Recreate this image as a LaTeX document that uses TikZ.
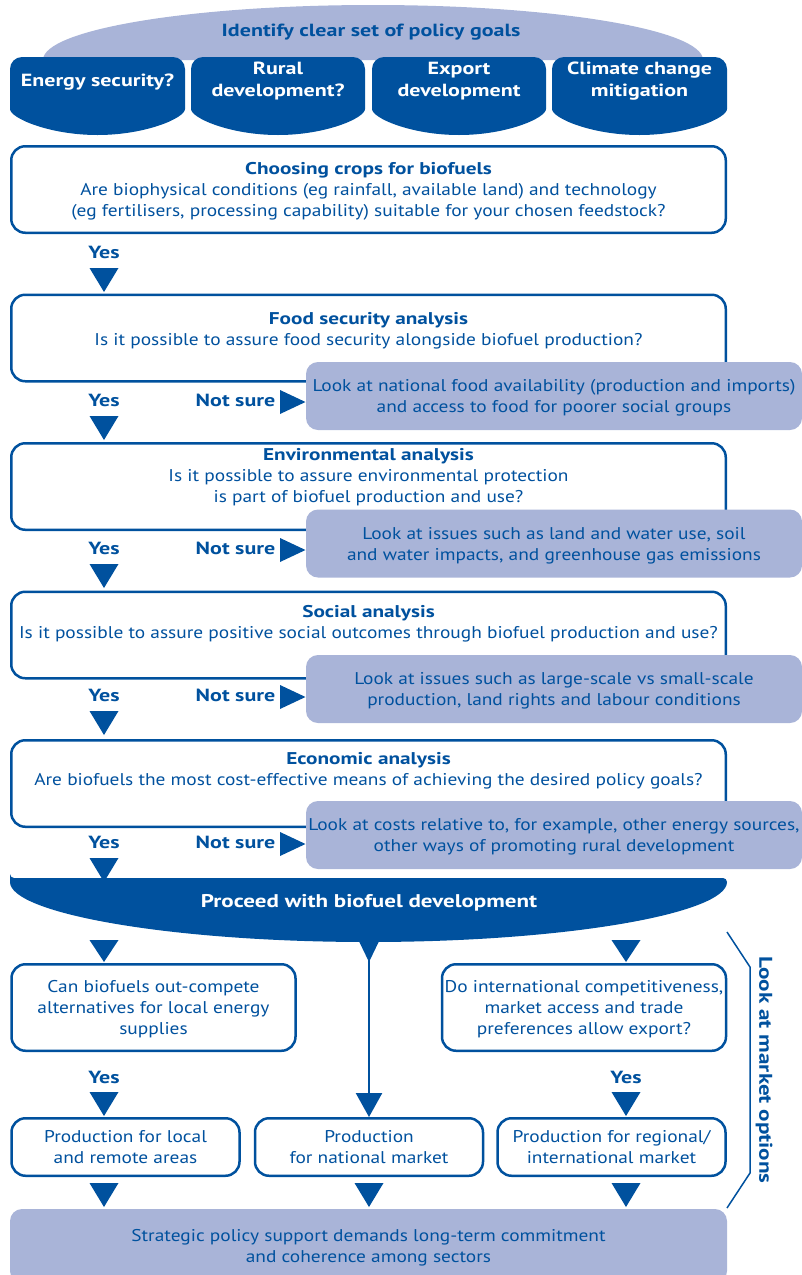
\documentclass[tikz,border=0pt]{standalone}
\usepackage{fontspec}
\setmainfont{PT Sans}[FakeStretch=1.14, BoldFeatures={FakeStretch=1.25}]
\usetikzlibrary{positioning,arrows.meta}
\definecolor{bdark}{RGB}{0,81,158}
\definecolor{blight}{RGB}{169,180,216}
\begin{document}
\begin{tikzpicture}[x=1pt, y=-1pt, node distance=59.5pt, auto]
    % Styles
    \tikzstyle{qbox} = [rectangle, draw=bdark, line width=2.5pt, fill=white, rounded corners=14pt, minimum width=714.5pt, minimum height=86.5pt]
    \tikzstyle{qtext} = [text=bdark, align=center, inner sep=0pt, text depth=0pt, font=\fontsize{17}{21}\selectfont]
    \tikzstyle{hint} = [rectangle, fill=blight, rounded corners=12pt, minimum width=496pt, minimum height=68pt, text=bdark, align=center, inner sep=0pt, text depth=0pt, font=\fontsize{17}{21}\selectfont]
    \tikzstyle{mbox} = [qbox, qtext, minimum width=284pt, minimum height=86.5pt]
    \tikzstyle{sbox} = [qbox, qtext, minimum width=228pt, minimum height=57.5pt]
    \tikzstyle{goal} = [fill=bdark, rounded corners=12pt]
    \tikzstyle{goaltext} = [text=white, align=center, inner sep=0pt, font=\bfseries\fontsize{17.6}{22}\selectfont]
    \tikzstyle{tag} = [text=bdark, inner sep=0pt, font=\bfseries\fontsize{17.6}{21}\selectfont]
    \tikzstyle{tri} = [fill=bdark]
    \tikzstyle{arrow} = [bdark, line width=2.5pt, -{Triangle[width=26pt, length=24pt]}]

    \useasboundingbox (0,0) rectangle (802,1275);
    \clip (0,0) rectangle (802,1275);

    % Policy goals
    \fill[blight] (43,60) arc[start angle=180, end angle=360, x radius=330, y radius=55] -- cycle;
    \node[tag] (goals) at (371,32) {Identify clear set of policy goals};
    \foreach \xa/\xb in {10/185, 191/365, 372/546, 552/727}
        \fill[goal] (\xa,97) -- (\xa,57) -- (\xb,57) -- (\xb,97)
            arc[start angle=0, end angle=180, x radius={(\xb-\xa)/2}, y radius=38] -- cycle;
    \node[goaltext] (energy) at (97.5,82) {Energy security?};
    \node[goaltext] (rural) at (278,81) {Rural\\development?};
    \node[goaltext] (export) at (459,81) {Export\\development};
    \node[goaltext] (climate) at (639.5,81) {Climate change\\mitigation};

    % Analysis boxes
    \node[qbox, qtext] (crops) at (368.5,189.5) {\textbf{Choosing crops for biofuels}\\Are biophysical conditions (eg rainfall, available land) and technology\\(eg fertilisers, processing capability) suitable for your chosen feedstock?};
    \node[qbox, below=of crops] (food) {};
    \node[qbox, below=of food] (env) {};
    \node[qbox, below=of env] (social) {};
    \node[qbox, below=of social] (econ) {};
    \node[qtext] (foodq) at (368.5,328.5) {\textbf{Food security analysis}\\Is it possible to assure food security alongside biofuel production?};
    \node[qtext] (envq) at (368.5,475) {\textbf{Environmental analysis}\\Is it possible to assure environmental protection\\is part of biofuel production and use?};
    \node[qtext] (socialq) at (368.5,621.5) {\textbf{Social analysis}\\Is it possible to assure positive social outcomes through biofuel production and use?};
    \node[qtext] (econq) at (368.5,768.5) {\textbf{Economic analysis}\\Are biofuels the most cost-effective means of achieving the desired policy goals?};

    % Hints
    \node[hint] (foodhint) at (554,396) {Look at national food availability (production and imports)\\and access to food for poorer social groups};
    \node[hint] (envhint) at (554,543.5) {Look at issues such as land and water use, soil\\and water impacts, and greenhouse gas emissions};
    \node[hint] (socialhint) at (554,689) {Look at issues such as large-scale vs small-scale\\production, land rights and labour conditions};
    \node[hint] (econhint) at (554,835) {Look at costs relative to, for example, other energy sources,\\other ways of promoting rural development};

    % Yes / Not sure
    \node[tag] (yes0) at (104,252) {Yes};
    \node[tag] (yes1) at (104,400) {Yes};
    \node[tag] (yes2) at (104,548) {Yes};
    \node[tag] (yes3) at (104,695) {Yes};
    \node[tag] (yes4) at (104,842) {Yes};
    \node[tag] (ns1) at (235.5,400) {Not sure};
    \node[tag] (ns2) at (235.5,548) {Not sure};
    \node[tag] (ns3) at (235.5,695) {Not sure};
    \node[tag] (ns4) at (235.5,842) {Not sure};
    \foreach \y in {268,416,564,711,858}
        \fill[tri] (89.5,\y) -- (118.5,\y) -- (104,\y+24) -- cycle;
    \foreach \y in {402,550,697,844}
        \fill[tri] (280,\y-12) -- (280,\y+12) -- (305.5,\y) -- cycle;

    % Proceed
    \fill[goal, rounded corners=4pt] (10,878) -- (727,878) arc[start angle=0, end angle=180, x radius=358.5, y radius=64] -- cycle;
    \node[goaltext, font=\bfseries\fontsize{18.4}{22}\selectfont] (proceed) at (369,903) {Proceed with biofuel development};
    \fill[tri] (356,935) -- (382,935) -- (369,962) -- cycle;
    \fill[tri] (89.5,940) -- (118.5,940) -- (104,962) -- cycle;
    \fill[tri] (611.5,940) -- (640.5,940) -- (626,962) -- cycle;

    % Market options
    \node[mbox] (localq) at (153.5,1007.5) {Can biofuels out-compete\\alternatives for local energy\\supplies};
    \node[mbox] (exportq) at (584,1007.5) {Do international competitiveness,\\market access and trade\\preferences allow export?};
    \node[tag] (yes5) at (104,1077) {Yes};
    \node[tag] (yes6) at (626,1077) {Yes};
    \fill[tri] (89.5,1092) -- (118.5,1092) -- (104,1116) -- cycle;
    \fill[tri] (611.5,1092) -- (640.5,1092) -- (626,1116) -- cycle;
    \node[sbox] (local) at (125.5,1147) {Production for local\\and remote areas};
    \node[sbox] (national) at (369,1147) {Production\\for national market};
    \node[sbox] (regional) at (611.5,1147) {Production for regional/\\international market};
    \draw[arrow] (proceed) -- (national);
    \foreach \x in {104,369,626}
        \fill[tri] (\x-14.5,1183) -- (\x+14.5,1183) -- (\x,1207) -- cycle;
    \node[hint, minimum width=717pt, minimum height=74pt] (strategy) at (368.5,1246) {Strategic policy support demands long-term commitment\\and coherence among sectors};

    % Bracket
    \draw[bdark, line width=1.5pt] (727,932) -- (750,967) -- (750,1173) -- (727,1208);
    \node[tag, rotate=-90, font=\bfseries\fontsize{18.5}{21}\selectfont] (market) at (764,1070) {Look at market options};
\end{tikzpicture}
\end{document}
